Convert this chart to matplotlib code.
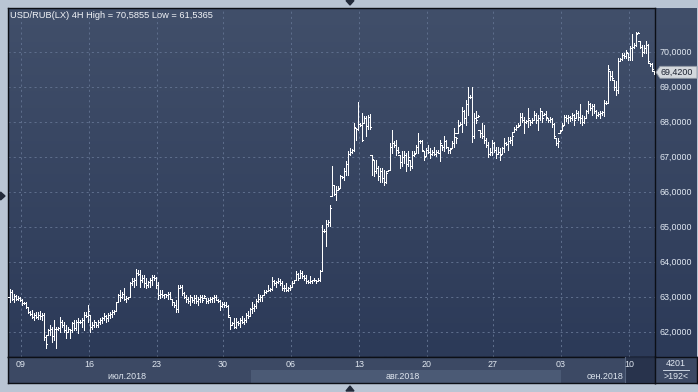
import numpy as np
import matplotlib
matplotlib.use("Agg")
import matplotlib.pyplot as plt
from matplotlib.patches import Polygon
from matplotlib.colors import LinearSegmentedColormap
import matplotlib.transforms as mtransforms

plt.rcParams['font.family'] = ['Liberation Sans', 'DejaVu Sans']

# ---------------- data (USD/RUB 4H bars, 6 Jul - 11 Sep 2018) ----------------
high = [
    63.23, 63.20, 63.10, 63.06, 63.03, 63.01, 62.93, 62.87, 62.86, 62.72,
    62.60, 62.63, 62.55, 62.58, 62.58, 62.60, 62.53, 62.53, 61.91, 62.10,
    62.20, 62.15, 62.34, 62.15, 62.15, 62.44, 62.34, 62.30, 62.20, 62.15,
    62.10, 62.30, 62.34, 62.34, 62.39, 62.34, 62.39, 62.58, 62.58, 62.77,
    62.49, 62.30, 62.34, 62.30, 62.34, 62.39, 62.44, 62.53, 62.49, 62.55,
    62.58, 62.63, 62.63, 62.87, 63.10, 63.20,
    63.15, 63.25, 63.03, 63.01, 63.44, 63.53, 63.53, 63.79, 63.77, 63.77,
    63.63, 63.63, 63.53, 63.47, 63.55, 63.63, 63.63, 63.58, 63.44, 63.20,
    63.20, 63.10, 63.10, 63.15, 63.15, 62.93, 62.87, 62.91, 63.34, 63.34,
    63.34, 63.15, 63.06, 63.01, 63.06, 63.01, 63.06, 63.06, 63.01, 63.06,
    63.06, 63.06, 62.98, 62.96, 63.01, 63.01, 63.06, 63.06, 62.93, 62.91,
    62.87, 62.87, 62.85, 62.77, 62.44, 62.30,
    62.39, 62.39, 62.32, 62.40, 62.45, 62.40, 62.55, 62.60, 62.70, 62.85,
    62.80, 62.95, 63.10, 63.07, 63.07, 63.21, 63.21, 63.35, 63.26, 63.57,
    63.50, 63.45, 63.54, 63.51, 63.45, 63.35, 63.40, 63.30, 63.35, 63.45,
    63.50, 63.73, 63.69, 63.78, 63.73, 63.64, 63.64, 63.50, 63.59, 63.50,
    63.54, 63.50, 63.54, 63.78, 65.07, 64.95, 65.21, 65.21, 65.64, 66.73,
    66.21, 66.16, 66.16, 66.50, 66.45, 66.69,
    66.88, 67.16, 67.26, 67.23, 67.97, 67.83, 68.57, 67.97, 68.26, 68.16,
    68.16, 68.21, 68.24, 67.07, 66.92, 66.92, 66.73, 66.69, 66.69, 66.64,
    66.59, 66.64, 67.40, 67.78, 67.45, 67.50, 67.30, 67.07, 67.16, 67.16,
    67.11, 67.16, 66.92, 67.16, 67.16, 67.35, 67.69, 67.50, 67.50, 67.16,
    67.26, 67.35, 67.26, 67.21, 67.30, 67.21, 67.21, 67.50, 67.35, 67.59,
    67.50, 67.30, 67.26, 67.45,
    67.82, 67.58, 68.06, 68.01, 68.44, 68.34, 68.63, 69.01, 68.77, 69.01,
    68.25, 68.30, 68.20, 67.77, 67.96, 67.91, 67.53, 67.44, 67.25, 67.49,
    67.44, 67.30, 67.30, 67.25, 67.30, 67.53, 67.44, 67.58, 67.58, 67.68,
    67.87, 67.91, 67.96, 68.25, 68.25, 68.15, 68.06, 68.39, 68.06, 68.10,
    68.30, 68.25, 68.20, 68.39, 68.30, 68.25, 68.30, 68.10, 68.15, 68.10,
    67.96, 67.53, 67.53, 67.77,
    67.97, 68.19, 68.19, 68.19, 68.16, 68.26, 68.23, 68.35, 68.30, 68.50,
    68.21, 68.16, 68.35, 68.59, 68.54, 68.50, 68.50, 68.35, 68.29, 68.30,
    68.30, 68.64, 68.59, 69.64, 69.45, 69.45, 69.21, 69.16, 69.83, 69.83,
    69.97, 69.97, 70.07, 69.97, 70.16, 70.51, 70.26, 70.57, 70.5855, 70.30,
    70.21, 70.19, 70.30, 70.23, 69.69, 69.69, 69.45,
]
low = [
    62.87, 62.91, 62.87, 62.91, 62.91, 62.90, 62.77, 62.80, 62.68, 62.53,
    62.49, 62.39, 62.34, 62.39, 62.38, 62.36, 62.34, 61.77, 61.5365, 61.91,
    61.91, 61.72, 61.77, 61.54, 62.06, 62.01, 62.15, 62.01, 61.82, 62.01,
    61.82, 62.01, 62.06, 62.06, 61.96, 62.25, 62.15, 62.06, 62.42, 62.30,
    62.01, 62.10, 62.15, 62.15, 62.15, 62.22, 62.25, 62.34, 62.30, 62.32,
    62.39, 62.44, 62.52, 62.60, 62.85, 62.90,
    62.96, 62.91, 62.87, 62.93, 62.99, 63.34, 63.30, 63.34, 63.63, 63.30,
    63.44, 63.30, 63.25, 63.30, 63.28, 63.34, 63.49, 63.25, 62.93, 62.96,
    63.01, 62.96, 63.01, 62.95, 62.93, 62.77, 62.72, 62.58, 62.58, 63.25,
    63.06, 62.96, 62.87, 62.82, 62.77, 62.87, 62.82, 62.84, 62.77, 62.87,
    62.87, 62.96, 62.82, 62.82, 62.87, 62.87, 62.87, 62.91, 62.87, 62.63,
    62.72, 62.72, 62.72, 62.44, 62.10, 62.20,
    62.11, 62.11, 62.20, 62.15, 62.25, 62.22, 62.30, 62.40, 62.45, 62.55,
    62.60, 62.70, 62.85, 62.90, 62.90, 63.07, 63.11, 63.16, 63.16, 63.21,
    63.35, 63.30, 63.40, 63.35, 63.21, 63.16, 63.16, 63.16, 63.21, 63.30,
    63.40, 63.50, 63.50, 63.54, 63.54, 63.50, 63.40, 63.40, 63.40, 63.40,
    63.45, 63.40, 63.45, 63.45, 63.73, 64.85, 64.45, 65.02, 65.02, 65.88,
    65.92, 65.78, 66.07, 66.11, 66.40, 66.35,
    66.50, 66.50, 67.07, 67.11, 67.16, 67.50, 67.78, 67.88, 67.45, 67.97,
    67.59, 67.80, 67.80, 66.50, 66.45, 66.54, 66.35, 66.30, 66.30, 66.21,
    66.26, 66.59, 66.64, 67.11, 67.30, 67.07, 67.11, 66.69, 66.73, 66.83,
    66.59, 66.73, 66.64, 66.69, 67.02, 67.11, 67.11, 67.40, 67.16, 66.92,
    67.02, 67.11, 66.97, 67.07, 67.07, 67.02, 67.11, 66.88, 67.21, 67.16,
    67.26, 67.11, 67.11, 67.26,
    67.30, 67.39, 67.68, 67.91, 67.72, 67.96, 67.91, 68.20, 68.68, 67.44,
    67.53, 67.96, 68.15, 67.58, 67.53, 67.39, 67.30, 67.01, 67.06, 67.06,
    67.15, 66.96, 67.10, 66.91, 67.10, 67.15, 67.34, 67.20, 67.39, 67.34,
    67.72, 67.77, 67.87, 67.91, 68.01, 67.68, 67.96, 67.87, 67.91, 67.96,
    68.06, 67.96, 67.77, 68.06, 68.01, 68.20, 68.06, 68.01, 68.01, 67.87,
    67.53, 67.34, 67.30, 67.68,
    67.78, 67.92, 68.02, 67.97, 68.02, 68.07, 67.92, 68.11, 68.07, 67.97,
    67.92, 67.97, 68.10, 68.26, 68.35, 68.21, 68.26, 68.11, 68.16, 68.11,
    68.21, 68.16, 68.50, 68.54, 69.21, 69.21, 68.92, 68.78, 68.83, 69.73,
    69.78, 69.83, 69.83, 69.78, 69.78, 69.78, 70.11, 70.16, 70.54, 70.10,
    69.88, 69.97, 69.97, 69.69, 69.59, 69.45, 69.37,
]
close = [
    63.15, 62.95, 63.02, 62.95, 62.98, 62.92, 62.82, 62.84, 62.72, 62.58,
    62.52, 62.44, 62.50, 62.42, 62.50, 62.45, 62.50, 61.85, 61.65, 62.05,
    62.10, 61.90, 62.10, 62.08, 62.12, 62.30, 62.20, 62.05, 62.00, 62.10,
    62.05, 62.25, 62.12, 62.28, 62.30, 62.28, 62.35, 62.50, 62.45, 62.60,
    62.15, 62.20, 62.30, 62.20, 62.30, 62.35, 62.40, 62.45, 62.40, 62.50,
    62.52, 62.58, 62.60, 62.85, 63.05, 63.00,
    63.10, 62.95, 62.98, 62.99, 63.40, 63.45, 63.48, 63.70, 63.65, 63.50,
    63.55, 63.40, 63.35, 63.42, 63.50, 63.58, 63.55, 63.35, 63.05, 63.10,
    63.05, 63.08, 63.05, 63.10, 62.95, 62.85, 62.78, 62.65, 63.25, 63.28,
    63.12, 63.00, 62.95, 62.90, 63.00, 62.92, 62.98, 62.90, 62.95, 63.00,
    62.92, 63.02, 62.88, 62.92, 62.95, 62.98, 63.00, 62.92, 62.90, 62.75,
    62.80, 62.76, 62.74, 62.50, 62.20, 62.25,
    62.15, 62.30, 62.25, 62.35, 62.30, 62.35, 62.50, 62.45, 62.65, 62.70,
    62.75, 62.90, 62.95, 63.00, 63.05, 63.15, 63.18, 63.20, 63.22, 63.45,
    63.40, 63.42, 63.45, 63.40, 63.25, 63.25, 63.20, 63.25, 63.30, 63.40,
    63.48, 63.65, 63.55, 63.70, 63.60, 63.55, 63.45, 63.42, 63.45, 63.48,
    63.48, 63.45, 63.50, 63.75, 64.90, 64.90, 65.10, 65.15, 65.55, 66.20,
    65.95, 66.05, 66.10, 66.45, 66.42, 66.60,
    66.80, 67.10, 67.15, 67.20, 67.85, 67.80, 67.95, 67.92, 67.50, 68.10,
    67.90, 68.15, 67.85, 66.95, 66.60, 66.70, 66.45, 66.60, 66.40, 66.30,
    66.55, 66.62, 67.30, 67.40, 67.35, 67.20, 67.15, 66.85, 67.00, 67.05,
    66.80, 67.00, 66.75, 67.05, 67.10, 67.28, 67.45, 67.45, 67.20, 67.00,
    67.20, 67.15, 67.10, 67.15, 67.10, 67.15, 67.12, 67.40, 67.30, 67.45,
    67.30, 67.20, 67.22, 67.40,
    67.70, 67.55, 67.90, 67.95, 68.30, 68.10, 68.50, 68.70, 68.72, 67.60,
    68.10, 68.05, 68.18, 67.70, 67.60, 67.50, 67.35, 67.10, 67.15, 67.40,
    67.20, 67.10, 67.15, 67.05, 67.25, 67.40, 67.38, 67.45, 67.50, 67.60,
    67.80, 67.85, 67.90, 68.15, 68.05, 68.00, 68.02, 68.10, 68.00, 68.05,
    68.20, 68.05, 68.10, 68.30, 68.10, 68.22, 68.15, 68.05, 68.08, 67.95,
    67.60, 67.40, 67.45, 67.75,
    67.90, 68.15, 68.10, 68.15, 68.10, 68.20, 68.05, 68.25, 68.15, 68.10,
    68.00, 68.10, 68.30, 68.50, 68.40, 68.45, 68.30, 68.20, 68.22, 68.25,
    68.28, 68.55, 68.55, 69.50, 69.30, 69.25, 69.00, 68.90, 69.75, 69.80,
    69.90, 69.88, 70.00, 69.85, 70.10, 70.15, 70.20, 70.50, 70.55, 70.15,
    70.00, 70.10, 70.20, 69.75, 69.65, 69.50, 69.42,
]
first_open = 63.00

week_start_bar = [6, 40, 74, 107, 141, 175, 209, 242, 276, 310]
week_labels = ["09", "16", "23", "30", "06", "13", "20", "27", "03", "10"]
month_start_bar = [0, 121, 276]
month_labels = ["июл.2018", "авг.2018", "сен.2018"]
price_ticks = [62, 63, 64, 65, 66, 67, 68, 69, 70]
title = "USD/RUB(LX) 4H High = 70,5855 Low = 61,5365"
counter_top, counter_bottom = "4201", ">192<"

# ---------------- figure ----------------
n = min(len(high), len(low), len(close))
hi = np.array(high[:n]); lo = np.array(low[:n]); cl = np.array(close[:n])
op = np.clip(np.concatenate([[first_open], cl[:-1]]), lo, hi)
idx = np.arange(n)

W, H = 698, 392
fig = plt.figure(figsize=(W / 100, H / 100), dpi=100)
fig.patch.set_facecolor('#b9c5d4')

def px_axes(l, t, r, b, **kw):
    return fig.add_axes([l / W, 1 - b / H, (r - l) / W, (b - t) / H], **kw)

PL, PT, PR, PB = 8, 8, 655, 357
XMIN, XMAX = -0.75, n - 0.25
YMIN, YMAX = 61.286, 71.257

bg_cmap = LinearSegmentedColormap.from_list('bg', ['#414f6a', '#2c3a58'])
grad = np.linspace(0, 1, 256).reshape(-1, 1)

# right price panel background
axr = px_axes(PR, PT, W - 1, PB)
axr.imshow(grad, cmap=bg_cmap, extent=[0, 1, 0, 1], aspect='auto')
axr.set_xlim(0, 1); axr.set_ylim(0, 1); axr.set_xticks([]); axr.set_yticks([])
for s in axr.spines.values():
    s.set_visible(False)

# main panel
ax = px_axes(PL, PT, PR, PB)
ax.imshow(grad, cmap=bg_cmap, extent=[0, 1, 0, 1], transform=ax.transAxes,
          aspect='auto', zorder=0)
ax.set_autoscale_on(False)
ax.set_xlim(XMIN, XMAX)
ax.set_ylim(YMIN, YMAX)
ax.set_xticks([]); ax.set_yticks([])
for s in ax.spines.values():
    s.set_color('#0c0f16'); s.set_linewidth(1.0)

grid_kw = dict(color='#5d6d8b', lw=0.75, linestyle=(0, (2, 3)), zorder=1)
for p in price_ticks:
    ax.axhline(p, **grid_kw)
for w in week_start_bar:
    ax.axvline(w - 0.3, **grid_kw)

bar_kw = dict(color='white', lw=0.72, antialiased=False, zorder=3)
ax.vlines(idx, lo, hi, **bar_kw)
ax.hlines(op, idx - 0.75, idx, **bar_kw)
ax.hlines(cl, idx, idx + 0.75, **bar_kw)

ax.text(2 / 647, 1 - 7 / 349, title, transform=ax.transAxes, fontsize=6.7,
        color='#f2f4f8', va='center', ha='left', zorder=5)

# price labels on right
bt = mtransforms.blended_transform_factory(ax.transAxes, ax.transData)
for p in price_ticks:
    ax.text(1 + 4 / 647, p, f"{p:.4f}".replace('.', ','), transform=bt,
            fontsize=6.4, color='#e3eaf3', va='center', ha='left', clip_on=False)

# last price marker
last = cl[-1]
hpx = 6 * (YMAX - YMIN) / (PB - PT)
pw = 1 / 647
marker = Polygon([(1 + 1 * pw, last), (1 + 5 * pw, last + hpx), (1 + 42 * pw, last + hpx),
                  (1 + 42 * pw, last - hpx), (1 + 5 * pw, last - hpx)], closed=True,
                 transform=bt, facecolor='#d4d8dd', edgecolor='#8f97a3', lw=0.6,
                 clip_on=False, zorder=6)
ax.add_patch(marker)
ax.text(1 + 5.5 * pw, last, f"{last:.4f}".replace('.', ','), transform=bt,
        fontsize=6.4, color='#1c2230', va='center', ha='left', clip_on=False, zorder=7)

# date panel
axd = px_axes(PL, PB, PR, 383)
axd.set_facecolor('#3c4964')
axd.set_xlim(XMIN, XMAX); axd.set_ylim(0, 1)
axd.set_xticks([]); axd.set_yticks([])
for s in axd.spines.values():
    s.set_color('#0c0f16'); s.set_linewidth(1.0)
bounds = [XMIN] + [m - 0.25 for m in month_start_bar[1:]] + [XMAX]
for k, lab in enumerate(month_labels):
    a, b = bounds[k], bounds[k + 1]
    if k % 2 == 1:
        axd.axvspan(a, b, ymin=0, ymax=0.5, color='#4b5a75', lw=0, zorder=1)
    axd.text((a + b) / 2 - 1.5, 0.24, lab, fontsize=6.4, color='#dfe6ef',
             ha='center', va='center', zorder=3)
axd.axvspan(week_start_bar[-1] - 2.25, XMAX, color='#232e47', alpha=0.8, lw=0, zorder=4)
axd.axvline(week_start_bar[-1] - 2.25, color='#56647e', lw=0.8, zorder=4)
for w, lab in zip(week_start_bar, week_labels):
    axd.text(w - 0.3, 0.73, lab, fontsize=6.4, color='#dfe6ef',
             ha='center', va='center', zorder=5)

# counter box
axc = px_axes(PR, PB, W - 1, 383)
axc.set_facecolor('#3c4964')
axc.set_xlim(0, 1); axc.set_ylim(0, 1); axc.set_xticks([]); axc.set_yticks([])
for s in axc.spines.values():
    s.set_color('#0c0f16'); s.set_linewidth(1.0)
axc.text(0.5, 0.74, counter_top, fontsize=6.4, color='#e3eaf3', ha='center', va='center')
axc.plot([0.2, 0.82], [0.5, 0.5], color='#c9d2de', lw=0.7)
axc.text(0.5, 0.26, counter_bottom, fontsize=6.4, color='#e3eaf3', ha='center', va='center')

# frame decorations (scroll arrows)
axo = fig.add_axes([0, 0, 1, 1])
axo.set_xlim(0, W); axo.set_ylim(H, 0); axo.axis('off')
axo.patch.set_alpha(0)
tri = '#222a3a'
axo.add_patch(Polygon([(346, 0.5), (354, 0.5), (350, 5)], color=tri))
axo.add_patch(Polygon([(346, 391), (354, 391), (350, 386)], color=tri))
axo.add_patch(Polygon([(0.5, 192), (0.5, 200), (5, 196)], color=tri))

fig.savefig('out.png', dpi=100, facecolor=fig.get_facecolor())
